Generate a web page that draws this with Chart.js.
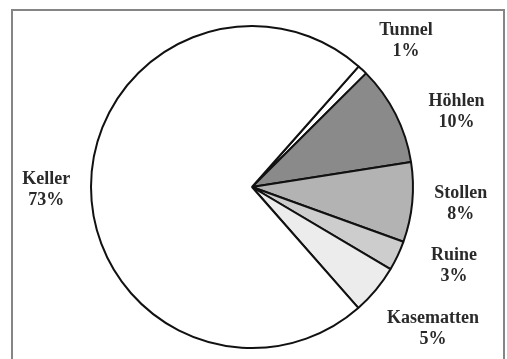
<!DOCTYPE html>
<html>
<head>
<meta charset="utf-8">
<script src="https://cdn.jsdelivr.net/npm/chart.js@4/dist/chart.umd.min.js"></script>
<style>
  html, body { margin: 0; padding: 0; background: #ffffff; }
  #wrap { position: relative; width: 507px; height: 359px; overflow: hidden; }
  #frame { position: absolute; left: 11px; top: 9px; width: 494px; height: 400px;
           border: 2px solid #858585; box-sizing: border-box; }
  canvas { position: absolute; left: 0; top: 0; }
</style>
</head>
<body>
<div id="wrap">
  <div id="frame"></div>
  <canvas id="c" width="507" height="359"></canvas>
</div>
<script>
const categories = ["Tunnel", "Höhlen", "Stollen", "Ruine", "Kasematten", "Keller"];
const values = [1, 10, 8, 3, 5, 73];
const percentLabels = ["1%", "10%", "8%", "3%", "5%", "73%"];
const sliceColors = ["#ffffff", "#8a8a8a", "#b3b3b3", "#cdcdcd", "#ececec", "#ffffff"];
// label nudges (px) from the default radial label position
const labelNudges = [[6, 11], [12, 22], [-6, -4], [7, -13], [15, 4], [10, 3]];

const labelPlugin = {
  id: 'outerLabels',
  afterDatasetsDraw(chart) {
    const ctx = chart.ctx;
    const meta = chart.getDatasetMeta(0);
    ctx.save();
    ctx.font = 'bold 18px "Liberation Serif", "Times New Roman", serif';
    ctx.fillStyle = '#2a2a2a';
    ctx.textAlign = 'center';
    ctx.textBaseline = 'middle';
    meta.data.forEach((arc, i) => {
      const p = arc.getProps(['x', 'y', 'startAngle', 'endAngle', 'outerRadius'], true);
      const mid = (p.startAngle + p.endAngle) / 2;
      const r = p.outerRadius * 1.34;
      const x = p.x + Math.cos(mid) * r + labelNudges[i][0];
      const y = p.y + Math.sin(mid) * r + labelNudges[i][1];
      ctx.fillText(categories[i], x, y - 10.5);
      ctx.fillText(percentLabels[i], x, y + 10.5);
    });
    ctx.restore();
  }
};

new Chart(document.getElementById('c'), {
  type: 'pie',
  data: {
    labels: categories,
    datasets: [{
      data: values,
      backgroundColor: sliceColors,
      borderColor: '#111111',
      borderWidth: 2,
      hoverOffset: 0
    }]
  },
  options: {
    responsive: false,
    devicePixelRatio: 1,
    animation: false,
    rotation: 41.5,
    layout: { padding: { top: 25, bottom: 10, left: 88, right: 91 } },
    plugins: { legend: { display: false }, tooltip: { enabled: false } }
  },
  plugins: [labelPlugin]
});
</script>
</body>
</html>
